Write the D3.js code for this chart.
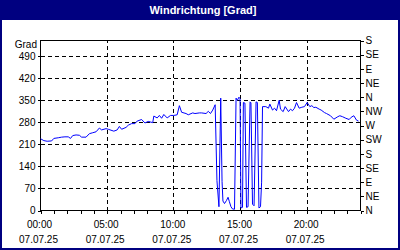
<!DOCTYPE html>
<html>
<head>
<meta charset="utf-8">
<script src="https://cdn.jsdelivr.net/npm/d3@7"></script>
<style>
html,body{margin:0;padding:0;background:#fff;}
svg{display:block;}
text{font-family:"Liberation Sans",Arial,sans-serif;}
</style>
</head>
<body>
<svg id="chart" width="400" height="250"></svg>
<script>
// ---- data ----
const title = "Windrichtung [Grad]";
const unitLabel = "Grad";
const dateLabel = "07.07.25";
const times = [
 "00:00","00:15","00:30","00:50","01:00","01:20","01:35","01:50","02:05","02:15","02:25","02:40","02:55","03:05","03:25","03:40","03:55","04:10","04:25","04:35","04:55","05:05","05:30","05:45","05:55","06:05","06:25","06:35","06:50","07:05","07:15","07:35","07:50","08:05","08:25","08:30","08:45","08:55","09:05","09:15","09:30","09:45","10:00","10:15","10:25","10:35","10:55","11:05","11:25","11:35","11:55","12:05","12:25","12:35","12:45","12:55","13:06",
 "13:14","13:23","13:31","13:37","13:41","13:48","13:57","14:04","14:10","14:17","14:24","14:33","14:40","14:46","14:53","14:58","15:02","15:09","15:13","15:20","15:27","15:34","15:43","15:47","15:54","16:01","16:10","16:16","16:23","16:30","16:35","16:39",
 "16:54","17:06","17:12","17:24","17:33","17:42","17:54","18:00","18:12","18:21","18:36","18:45","18:54","19:03","19:12","19:24","19:36","19:48","20:00","20:12","20:21","20:30","20:39","20:54","21:03","21:18","21:27","21:45","22:00","22:18","22:27","22:39","22:54","23:09","23:18","23:30","23:42","23:51"
];
const values = [
 228,222,220,221,229,231,233,234,234,229,238,240,239,233,233,244,247,250,262,256,260,258,252,256,267,258,264,271,276,276,284,289,278,283,279,300,294,302,293,305,294,302,302,304,333,312,308,304,310,308,310,310,308,315,308,319,336,
 95,12,357,92,30,22,32,42,28,12,5,4,357,350,360,355,8,10,343,341,10,12,345,342,20,15,345,343,8,12,90,330,
 330,325,338,319,325,317,350,322,314,330,314,322,317,325,343,325,328,330,343,330,333,327,328,322,319,311,308,301,290,298,301,298,293,289,296,301,287,284
];
const leftTicks = [0,70,140,210,280,350,420,490];
const rightLabels = ["N","NE","E","SE","S","SW","W","NW","N","NE","E","SE","S"];
const rightStep = 45;
const labelHours = [0,5,10,15,20];
const gridHours = [5,10,15,20];

// ---- layout ----
const W = 400, H = 250;
const svg = d3.select("#chart");
const navy = "#000080";

svg.append("rect").attr("x",0).attr("y",0).attr("width",W).attr("height",H).attr("fill","#fff");
svg.append("rect").attr("x",1).attr("y",1).attr("width",W-2).attr("height",H-2)
  .attr("fill","none").attr("stroke",navy).attr("stroke-width",2);
svg.append("rect").attr("x",0).attr("y",0).attr("width",W).attr("height",20).attr("fill",navy);
svg.append("text").attr("x",203).attr("y",14).attr("text-anchor","middle")
  .attr("fill","#fff").attr("font-weight","bold").attr("font-size","11px").text(title);

const parse = d3.timeParse("%Y-%m-%d %H:%M");
const t0 = parse("2025-07-07 00:00"), t1 = parse("2025-07-08 00:00");
const x = d3.scaleTime().domain([t0,t1]).range([40.5,360.5]);
const y = d3.scaleLinear().domain([0,540]).range([210.5,40.5]);

const data = times.map((t,i)=>({t:parse("2025-07-07 "+t), v:values[i]}));
const hourDate = h => d3.timeHour.offset(t0,h);

// gridlines
const grid = svg.append("g").attr("stroke","#000").attr("stroke-dasharray","4,3").attr("shape-rendering","crispEdges");
leftTicks.filter(d=>d>0).forEach(v=>{
  grid.append("line").attr("x1",x.range()[0]).attr("x2",x.range()[1]).attr("y1",y(v)).attr("y2",y(v));
});
gridHours.forEach(h=>{
  grid.append("line").attr("x1",x(hourDate(h))).attr("x2",x(hourDate(h))).attr("y1",y(0)).attr("y2",y(540));
});

// frame
svg.append("rect").attr("x",x.range()[0]).attr("y",y(540)).attr("width",x.range()[1]-x.range()[0]).attr("height",y(0)-y(540))
  .attr("fill","none").attr("stroke","#000").attr("shape-rendering","crispEdges");

// line
svg.append("path").datum(data).attr("fill","none").attr("stroke","#0000ff").attr("stroke-width",1)
  .attr("d",d3.line().x(d=>x(d.t)).y(d=>y(d.v)));

// left axis
const gl = svg.append("g").attr("transform",`translate(${x.range()[0]},0)`)
  .call(d3.axisLeft(y).tickValues(leftTicks).tickSize(3).tickPadding(2));
// right axis
const gr = svg.append("g").attr("transform",`translate(${x.range()[1]},0)`)
  .call(d3.axisRight(y).tickValues(rightLabels.map((d,i)=>i*rightStep)).tickFormat((d,i)=>rightLabels[i]).tickSize(3).tickPadding(2));
// bottom axis (hourly ticks)
const gb = svg.append("g").attr("transform",`translate(0,${y(0)})`)
  .call(d3.axisBottom(x).ticks(d3.timeHour.every(1)).tickFormat("").tickSize(3));

[gl,gr,gb].forEach(g=>{
  g.select(".domain").remove();
  g.selectAll("line").attr("stroke","#000").attr("shape-rendering","crispEdges");
  g.selectAll("text").attr("font-size","10px").attr("fill","#000").attr("font-family","'Liberation Sans',Arial,sans-serif");
});

// bottom labels
const fmt = d3.timeFormat("%H:%M");
const bl = svg.append("g").attr("font-size","10px").attr("fill","#000").attr("text-anchor","middle");
labelHours.forEach(h=>{
  const d = hourDate(h);
  bl.append("text").attr("x",x(d)-1).attr("y",228).text(fmt(d));
  bl.append("text").attr("x",x(d)-2).attr("y",243).text(dateLabel);
});

svg.append("text").attr("x",37).attr("y",48).attr("text-anchor","end").attr("font-size","10px").attr("fill","#000").text(unitLabel);
</script>
</body>
</html>
